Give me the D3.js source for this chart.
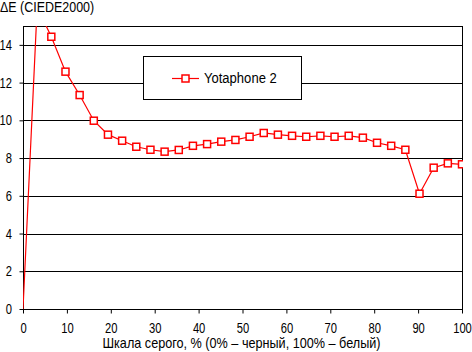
<!DOCTYPE html>
<html><head><meta charset="utf-8">
<script src="https://cdn.jsdelivr.net/npm/d3@7"></script>
<style>body{margin:0;background:#fff}svg{display:block}text{font-family:"Liberation Sans",Arial,sans-serif;fill:#000}</style>
</head><body><svg id="c" width="472" height="352"></svg>
<script>
const grayLevels = d3.range(32).map(i => i * 100 / 31);
const deltaE = [0, 16.0, 14.43, 12.58, 11.34, 9.98, 9.24, 8.92, 8.6, 8.44, 8.34, 8.43, 8.65, 8.74, 8.87, 8.96,
  9.13, 9.33, 9.24, 9.18, 9.13, 9.18, 9.13, 9.18, 9.08, 8.81, 8.65, 8.44, 6.11, 7.49, 7.72, 7.67];
const xTicks = [0,10,20,30,40,50,60,70,80,90,100];
const yTicks = [0,2,4,6,8,10,12,14];
const seriesName = "Yotaphone 2";
const yTitle = "ΔE (CIEDE2000)";
const xTitle = "Шкала серого, % (0% – черный, 100% – белый)";

const svg = d3.select("#c");
const L = 23, R = 462, T = 26, B = 309;
const x = d3.scaleLinear().domain([0,100]).range([L,R]);
const y = d3.scaleLinear().domain([0,15]).range([B,T]);

function squeeze(sel, sx){
  sel.each(function(){
    const t = d3.select(this);
    const ox = +t.attr("x") || 0;
    t.attr("x", ox / sx).attr("transform", `scale(${sx},1)`);
  });
}

// gridlines
svg.append("g").selectAll("line").data(yTicks.filter(d=>d>0)).join("line")
  .attr("x1",L).attr("x2",R).attr("y1",d=>Math.round(y(d))+0.5).attr("y2",d=>Math.round(y(d))+0.5)
  .attr("stroke","#000").attr("stroke-width",1);

// frame
svg.append("rect").attr("x",L+0.5).attr("y",T+0.5).attr("width",R-L).attr("height",B-T)
  .attr("fill","none").attr("stroke","#000").attr("stroke-width",1);

// axes
const xa = svg.append("g").attr("transform",`translate(0,${B+0.5})`)
  .call(d3.axisBottom(x).tickValues(xTicks).tickSize(4).tickPadding(10).tickFormat(d3.format("d")));
const ya = svg.append("g").attr("transform",`translate(${L+0.5},0)`)
  .call(d3.axisLeft(y).tickValues(yTicks).tickSize(4).tickPadding(7.5).tickFormat(d3.format("d")));
[xa,ya].forEach(g=>{
  g.select(".domain").remove();
  g.selectAll(".tick line").attr("stroke","#000").attr("stroke-width",1);
  g.selectAll("text").attr("font-size",14).style("font-family",'"Liberation Sans",Arial,sans-serif');
  squeeze(g.selectAll("text"), 0.8);
});

// clip
svg.append("clipPath").attr("id","clip").append("rect").attr("x",L).attr("y",T).attr("width",R-L+1).attr("height",B-T+1);

const pts = grayLevels.map((g,i)=>({g, v: deltaE[i]}));
const line = d3.line().x(d=>x(d.g)).y(d=>y(d.v));
const plot = svg.append("g").attr("clip-path","url(#clip)");
plot.append("path").datum(pts).attr("d",line).attr("fill","none").attr("stroke","#f00").attr("stroke-width",1.2);
const ms = 7;
plot.selectAll("rect.m").data(pts.filter(d=>d.v>0 && d.v<=15)).join("rect").attr("class","m")
  .attr("x",d=>x(d.g)-ms/2).attr("y",d=>y(d.v)-ms/2).attr("width",ms).attr("height",ms)
  .attr("fill","#fff").attr("stroke","#f00").attr("stroke-width",1.5);

// legend
const lg = svg.append("g");
lg.append("rect").attr("x",143.5).attr("y",56.5).attr("width",158).attr("height",43)
  .attr("fill","#fff").attr("stroke","#000").attr("stroke-width",1);
lg.append("line").attr("x1",172).attr("x2",199).attr("y1",78.5).attr("y2",78.5).attr("stroke","#f00").attr("stroke-width",1.2);
lg.append("rect").attr("x",182).attr("y",75).attr("width",ms).attr("height",ms)
  .attr("fill","#fff").attr("stroke","#f00").attr("stroke-width",1.5);
squeeze(lg.append("text").attr("x",204).attr("y",83).attr("font-size",15).text(seriesName), 0.87);

// titles
squeeze(svg.append("text").attr("x",0).attr("y",12).attr("font-size",14).text(yTitle), 0.89);
squeeze(svg.append("text").attr("x",241.5).attr("y",348).attr("text-anchor","middle").attr("font-size",14).text(xTitle), 0.904);
</script></body></html>
